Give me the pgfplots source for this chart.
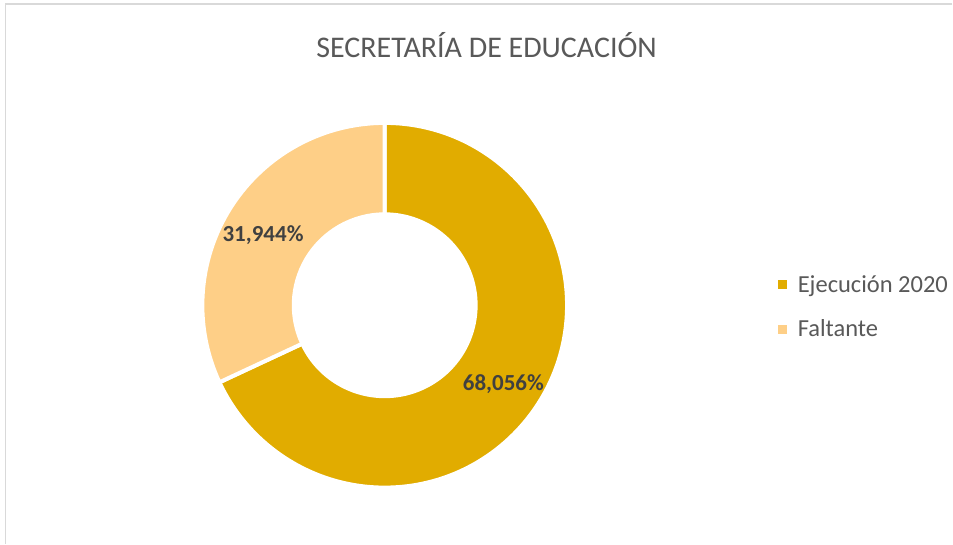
\documentclass[border=0pt]{standalone}
\usepackage{pgfplots}
\usepackage{pgfplotstable}
\pgfplotsset{compat=1.18}
\usepackage{fontspec}
\setmainfont{Carlito}
\definecolor{golddark}{HTML}{E1AC00}
\definecolor{goldlight}{HTML}{FECF87}
\definecolor{txtgray}{HTML}{595959}
\definecolor{lblgray}{HTML}{404040}
\definecolor{framegray}{HTML}{D9D9D9}

\pgfplotstableread[col sep=comma]{
label,value
Ejecución 2020,68.056
Faltante,31.944
}\donutdata

\pgfplotstablegetelem{0}{value}\of\donutdata
\let\vA\pgfplotsretval
\pgfplotstablegetelem{1}{value}\of\donutdata
\let\vB\pgfplotsretval
\pgfmathsetmacro\angS{90}
\pgfmathsetmacro\angA{90-3.6*\vA}
\pgfmathsetmacro\angB{\angA-3.6*\vB}
\pgfmathsetmacro\midA{(\angS+\angA)/2}
\pgfmathsetmacro\midB{(\angA+\angB)/2}
\def\Ro{182.5}
\def\Ri{91}

\begin{document}
\begin{tikzpicture}
\begin{axis}[
  width=953pt, height=544pt, scale only axis,
  xmin=0, xmax=953, ymin=0, ymax=544,
  hide axis, clip=false,
  legend style={draw=none, fill=none, at={(axis cs:775,237)}, anchor=west,
    font=\fontsize{24.5}{28}\selectfont\color{txtgray},
    row sep=24pt,
    nodes={inner sep=1pt, anchor=west}},
  legend cell align=left,
  legend image code/.code={\fill[#1] (0pt,-4pt) rectangle (8pt,4pt); \path[draw=none, fill=none] (0pt,0pt) (19pt,0pt);},
]
\fill[white] (axis cs:0,0) rectangle (axis cs:953,544);
\draw[framegray, line width=1.5pt] (axis cs:953,540) -- (axis cs:5.5,540) -- (axis cs:5.5,0);
\addlegendimage{golddark}
\addlegendentry{Ejecución 2020}
\addlegendimage{goldlight}
\addlegendentry{Faltante}
\fill[golddark, draw=white, line width=4pt, shift={(axis cs:385,238.5)}]
  (\angS:\Ro pt) arc[start angle=\angS, end angle=\angA, radius=\Ro pt]
  -- (\angA:\Ri pt) arc[start angle=\angA, end angle=\angS, radius=\Ri pt] -- cycle;
\fill[goldlight, draw=white, line width=4pt, shift={(axis cs:385,238.5)}]
  (\angA:\Ro pt) arc[start angle=\angA, end angle=\angB, radius=\Ro pt]
  -- (\angB:\Ri pt) arc[start angle=\angB, end angle=\angA, radius=\Ri pt] -- cycle;
\node[font=\fontsize{23}{27}\selectfont\bfseries, text=lblgray, shift={(axis cs:384,235.5)}] at (\midA:142pt) {68,056\%};
\node[font=\fontsize{23}{27}\selectfont\bfseries, text=lblgray, shift={(axis cs:383,232)}] at (\midB:142pt) {31,944\%};
\node[font=\fontsize{30}{35}\selectfont, text=txtgray] at (axis cs:487,499) {SECRETARÍA DE EDUCACIÓN};
\end{axis}
\end{tikzpicture}
\end{document}
